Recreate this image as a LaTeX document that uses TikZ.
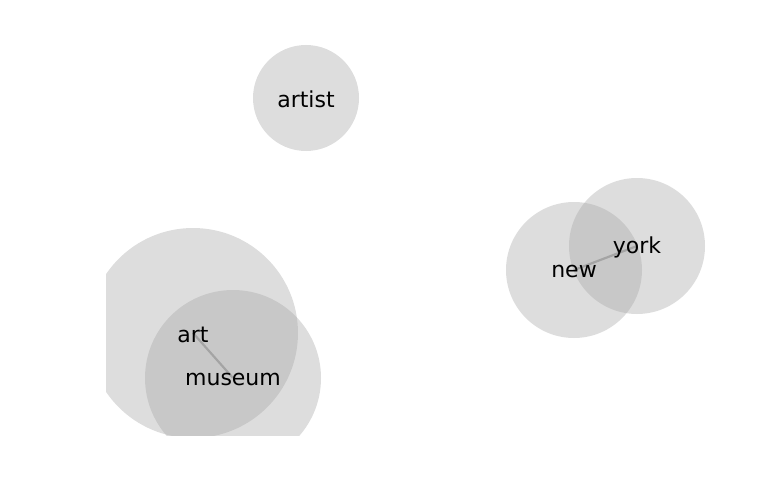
\documentclass[tikz,border=0pt]{standalone}
\usepackage{fontspec}
\setmainfont{DejaVu Sans}
\begin{document}
\begin{tikzpicture}[x=1pt,y=-1pt,
  bubble/.style={fill=black!35,fill opacity=0.38,draw=none},
  word/.style={font=\fontsize{22}{26}\selectfont,text=black,inner sep=0pt,yshift=-1.5pt},
  link/.style={draw=black!45,line width=2.2pt,opacity=0.6}]
\useasboundingbox (0,0) rectangle (768,500);
\begin{scope}
\clip (106,0) rectangle (768,435);
\fill[bubble] (306,98) circle (53);
\fill[bubble] (193,333) circle (105);
\fill[bubble] (233,378) circle (88);
\fill[bubble] (574,270) circle (68);
\fill[bubble] (637,246) circle (68);
\end{scope}
\coordinate (cart) at (193,333);
\coordinate (cmuseum) at (233,378);
\coordinate (cnew) at (574,270);
\coordinate (cyork) at (637,246);
\draw[link] (cart) -- (cmuseum);
\draw[link] (cnew) -- (cyork);
\node[word] (artist) at (306,98) {artist};
\node[word] (art) at (cart) {art};
\node[word] (museum) at (cmuseum) {museum};
\node[word] (new) at (cnew) {new};
\node[word] (york) at (cyork) {york};
\end{tikzpicture}
\end{document}
